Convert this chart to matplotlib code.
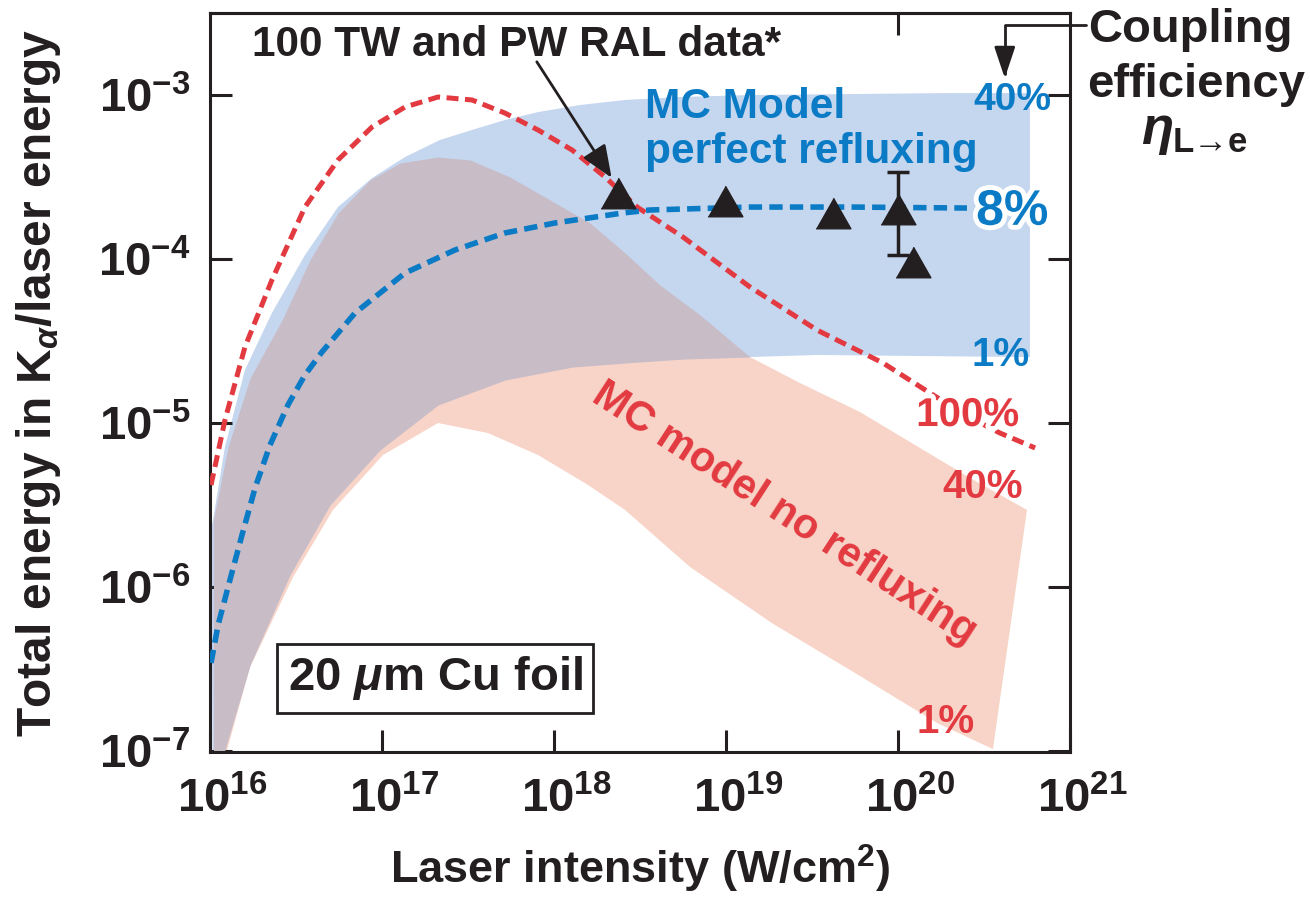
import numpy as np
import matplotlib
matplotlib.use('Agg')
import matplotlib.pyplot as plt
import matplotlib.patheffects as pe
from matplotlib.ticker import FixedLocator, FixedFormatter, NullLocator
from matplotlib.transforms import ScaledTranslation

plt.rcParams['font.family'] = ['Liberation Sans', 'DejaVu Sans']
plt.rcParams['font.weight'] = 'bold'
plt.rcParams['axes.labelweight'] = 'bold'
plt.rcParams['mathtext.fontset'] = 'custom'
plt.rcParams['mathtext.rm'] = 'Liberation Sans:bold'
plt.rcParams['mathtext.bf'] = 'Liberation Sans:bold'
plt.rcParams['mathtext.it'] = 'Liberation Sans:italic:bold'
plt.rcParams['mathtext.default'] = 'rm'

# all curves, stored as log10(intensity), log10(energy ratio)
# MC model, no refluxing, 100% coupling (red dashed)
red100_x = [16.006, 16.087, 16.203, 16.360, 16.552, 16.744, 16.942, 17.134, 17.326, 17.523, 17.715,
            17.907, 18.105, 18.297, 18.483, 18.750, 19.140, 19.529, 19.913, 20.186, 20.390, 20.593, 20.797]
red100_y = [-5.378, -4.982, -4.537, -4.128, -3.683, -3.396, -3.195, -3.073, -3.012, -3.030, -3.110,
            -3.213, -3.335, -3.500, -3.683, -3.866, -4.171, -4.433, -4.634, -4.817, -4.951, -5.061, -5.152]

# MC model, perfect refluxing, 8% coupling (blue dashed)
blue8_x = [16.006, 16.047, 16.116, 16.186, 16.262, 16.349, 16.453, 16.552, 16.651, 16.843, 17.134,
           17.424, 17.715, 18.006, 18.395, 18.558, 19.140, 19.721, 20.401]
blue8_y = [-6.463, -6.232, -5.957, -5.683, -5.396, -5.134, -4.890, -4.707, -4.567, -4.329, -4.085,
           -3.945, -3.841, -3.780, -3.720, -3.701, -3.683, -3.683, -3.689]

# perfect refluxing band: 40% (upper) and 1% (lower)
blue40_x = [16.006, 16.087, 16.203, 16.360, 16.552, 16.744, 16.942, 17.134, 17.337, 17.523, 17.715,
            17.907, 18.151, 18.413, 18.733, 19.140, 19.721, 20.302, 20.767]
blue40_y = [-5.665, -5.146, -4.677, -4.329, -3.976, -3.683, -3.506, -3.378, -3.274, -3.213, -3.152,
            -3.104, -3.061, -3.030, -3.012, -3.000, -2.994, -2.988, -2.988]
blue1_x = [16.017, 16.087, 16.233, 16.465, 16.698, 16.988, 17.326, 17.715, 18.105, 18.413, 18.750,
           19.529, 20.767]
blue1_y = [-7.299, -6.994, -6.476, -5.927, -5.500, -5.165, -4.890, -4.738, -4.659, -4.634, -4.610,
           -4.585, -4.598]

# no refluxing band: 40% (upper) and 1% (lower)
red40_x = [16.006, 16.105, 16.233, 16.419, 16.581, 16.744, 16.930, 17.105, 17.326, 17.512, 17.744,
           17.977, 18.209, 18.413, 18.616, 18.849, 19.140, 19.430, 19.779, 20.128, 20.419, 20.750]
red40_y = [-5.665, -5.146, -4.726, -4.372, -4.006, -3.720, -3.518, -3.415, -3.378, -3.396, -3.500,
           -3.640, -3.780, -3.963, -4.159, -4.341, -4.598, -4.756, -4.933, -5.152, -5.335, -5.530]
red1_x = [16.023, 16.099, 16.233, 16.483, 16.715, 17.006, 17.326, 17.616, 17.907, 18.198, 18.413,
          18.791, 19.267, 19.750, 20.227, 20.552]
red1_y = [-7.299, -6.994, -6.488, -5.939, -5.530, -5.195, -5.000, -5.061, -5.195, -5.378, -5.530,
          -5.878, -6.220, -6.524, -6.829, -6.988]

# RAL data
data_I = [2.36e18, 9.9e18, 4.19e19, 1.0e20, 1.22e20]
data_E = [2.52e-4, 2.26e-4, 1.91e-4, 2.02e-4, 9.6e-5]
err_I = 1.0e20
err_E = 2.02e-4
err_lo = 1.06e-4
err_hi = 3.39e-4

xticks = [1e16, 1e17, 1e18, 1e19, 1e20, 1e21]
xlabels = ['10$^{16}$', '10$^{17}$', '10$^{18}$', '10$^{19}$', '10$^{20}$', '10$^{21}$']
yticks = [1e-7, 1e-6, 1e-5, 1e-4, 1e-3]
ylabels = ['10$^{-7}$', '10$^{-6}$', '10$^{-5}$', '10$^{-4}$', '10$^{-3}$']

BLUE = '#0a7bc4'
RED = '#e23a40'
INK = '#231f20'
BLUE_BAND = '#c5d6ef'
PINK_BAND = '#f8d4c8'
MAUVE = '#c8bcc7'

fig = plt.figure(figsize=(13.1, 8.99), dpi=100)
ax = fig.add_axes([0.1603, 0.1635, 0.6565, 0.822])

def p10(a):
    return 10.0 ** np.asarray(a)

# bands
ax.fill(p10(np.r_[red40_x, red1_x[::-1]]), p10(np.r_[red40_y, red1_y[::-1]]),
        color=PINK_BAND, lw=0, zorder=1)
ax.fill(p10(np.r_[blue40_x, blue1_x[::-1]]), p10(np.r_[blue40_y, blue1_y[::-1]]),
        color=BLUE_BAND, lw=0, zorder=1)
g = np.linspace(16.02, 20.5, 600)
up = np.minimum(np.interp(g, blue40_x, blue40_y), np.interp(g, red40_x, red40_y))
lo = np.maximum(np.interp(g, blue1_x, blue1_y), np.interp(g, red1_x, red1_y))
ax.fill_between(p10(g), p10(lo), p10(up), where=up > lo, interpolate=True,
                color=MAUVE, lw=0, zorder=2)

# model curves
ax.plot(p10(red100_x), p10(red100_y), color=RED, lw=3.6, dashes=(2.4, 1.3), zorder=3)
ax.plot(p10(blue8_x), p10(blue8_y), color=BLUE, lw=4.0, dashes=(2.4, 1.3), zorder=3)

# data
tri = [(-1, -0.88), (1, -0.88), (0, 0.88)]
ax.errorbar([err_I], [err_E], yerr=[[err_E - err_lo], [err_hi - err_E]], fmt='none',
            ecolor=INK, elinewidth=2.5, capsize=8, capthick=2.5, zorder=4)
ax.plot(data_I, data_E, ls='none', marker=tri, ms=25, color=INK, mec=INK, zorder=5)

ax.set_xscale('log')
ax.set_yscale('log')
ax.set_xlim(1e16, 1e21)
ax.set_ylim(10 ** -7.006, 10 ** -2.5)
ax.xaxis.set_major_locator(FixedLocator(xticks))
ax.xaxis.set_major_formatter(FixedFormatter(xlabels))
ax.yaxis.set_major_locator(FixedLocator(yticks))
ax.yaxis.set_major_formatter(FixedFormatter(ylabels))
ax.xaxis.set_minor_locator(NullLocator())
ax.yaxis.set_minor_locator(NullLocator())
ax.tick_params(which='major', direction='in', length=16, width=2.2, color=INK,
               right=True, top=False, labelsize=34, labelcolor=INK, pad=14)
ax.tick_params(axis='x', pad=18)
for s in ax.spines.values():
    s.set_linewidth(2.2)
    s.set_color(INK)

# keep the "10" of each x label centred on its tick
shift = ScaledTranslation(0.12, 0, fig.dpi_scale_trans)
for lbl in ax.get_xticklabels():
    lbl.set_transform(lbl.get_transform() + shift)

top = ax.secondary_xaxis('top')
top.set_xticks([1e20])
top.xaxis.set_minor_locator(NullLocator())
top.tick_params(direction='in', length=16, width=2.2, color=INK, labeltop=False)
top.spines['top'].set_linewidth(2.2)

ax.set_xlabel('Laser intensity (W/cm$^{2}$)', fontsize=32.5, color=INK)
ax.set_ylabel(r'Total energy in K$_{\mathit{\alpha}}$/laser energy', fontsize=34.5, color=INK)
ax.xaxis.set_label_coords(0.5, -0.123)
ax.yaxis.set_label_coords(-0.171, 0.5)

# annotations
ax.text(0.357, 0.957, '100 TW and PW RAL data*', transform=ax.transAxes, fontsize=30.5,
        color=INK, ha='center', va='center')
ax.annotate('', xy=(0.467, 0.777), xytext=(0.38, 0.934), xycoords='axes fraction',
            arrowprops=dict(arrowstyle='-|>,head_length=1.1,head_width=0.45', color=INK,
                            lw=2, mutation_scale=18, shrinkA=0, shrinkB=0))
ax.text(0.506, 0.842, 'MC Model\nperfect refluxing', transform=ax.transAxes, fontsize=30.5,
        color=BLUE, ha='left', va='center', linespacing=1.17)
ax.text(0.668, 0.322, 'MC model no refluxing', transform=ax.transAxes, fontsize=30,
        color=RED, ha='center', va='center', rotation=-33)

white = [pe.withStroke(linewidth=7, foreground='white')]
ax.text(0.933, 0.882, '40%', transform=ax.transAxes, fontsize=28, color=BLUE, ha='center', va='center')
ax.text(0.933, 0.731, '8%', transform=ax.transAxes, fontsize=36, color=BLUE, ha='center',
        va='center', path_effects=white, zorder=6)
ax.text(0.919, 0.537, '1%', transform=ax.transAxes, fontsize=29, color=BLUE, ha='center', va='center')
ax.text(0.881, 0.456, '100%', transform=ax.transAxes, fontsize=29, color=RED, ha='center',
        va='center', path_effects=white, zorder=6)
ax.text(0.898, 0.359, '40%', transform=ax.transAxes, fontsize=29, color=RED, ha='center', va='center')
ax.text(0.855, 0.041, '1%', transform=ax.transAxes, fontsize=29, color=RED, ha='center', va='center')

ax.text(0.262, 0.100, r'20 $\mathit{\mu}$m Cu foil', transform=ax.transAxes, fontsize=34,
        color=INK, ha='center', va='center', zorder=7,
        bbox=dict(boxstyle='square,pad=0.22', fc='white', ec=INK, lw=2))

fig.text(0.909, 0.967, 'Coupling', fontsize=34, color=INK, ha='center', va='center')
fig.text(0.913, 0.905, 'efficiency', fontsize=34, color=INK, ha='center', va='center')
fig.text(0.883, 0.853, r'$\mathit{\eta}$', fontsize=38, color=INK, ha='center', va='center')
fig.text(0.895, 0.831, 'L\u2192e', fontsize=25, color=INK, ha='left', va='baseline')
fig.add_artist(matplotlib.patches.FancyArrowPatch(
    (0.829, 0.972), (0.767, 0.913), transform=fig.transFigure,
    connectionstyle='angle,angleA=180,angleB=90,rad=0',
    arrowstyle='-|>,head_length=1.2,head_width=0.4', mutation_scale=16,
    color=INK, lw=2, shrinkA=0, shrinkB=0))

fig.savefig('out.png', dpi=100)
